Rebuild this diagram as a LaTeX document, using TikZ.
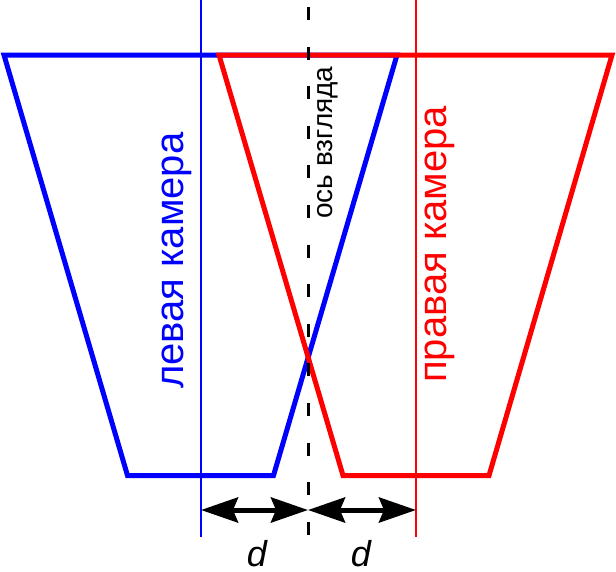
\documentclass[tikz,border=0pt]{standalone}
\usepackage{fontspec}
\setmainfont{Liberation Sans}
\usetikzlibrary{arrows.meta}
\definecolor{pblue}{RGB}{0,0,255}
\definecolor{pred}{RGB}{255,0,0}
\begin{document}
\begin{tikzpicture}[x=1pt,y=-1pt,
  frustum/.style={line width=5pt,line join=miter},
  guide/.style={line width=1.5pt},
  axisline/.style={line width=3pt,black,dash pattern=on 13pt off 26.6pt},
  dimarrow/.style={line width=5pt,black,{Stealth[length=37pt,width=25pt,inset=5pt]}-{Stealth[length=37pt,width=25pt,inset=5pt]}},
  biglabel/.style={rotate=90,anchor=base west,inner sep=0pt,font=\fontsize{40}{48}\selectfont},
  axislabel/.style={rotate=90,anchor=base west,inner sep=0pt,font=\fontsize{28}{34}\selectfont},
  dlabel/.style={anchor=base,inner sep=0pt,font=\fontsize{36}{43}\selectfont\itshape}]
\useasboundingbox (0,0) rectangle (616,571);
% trapezoids
\draw[frustum,pblue] (4,55) -- (397,55) -- (273.5,475.5) -- (127.5,475.5) -- cycle;
\draw[frustum,pred] (219,55) -- (612,55) -- (489,475.5) -- (343,475.5) -- cycle;
% guide lines
\coordinate (lt) at (201,0);
\coordinate (lb) at (201,537);
\coordinate (rt) at (416,0);
\coordinate (rb) at (416,537);
\coordinate (mt) at (308,7);
\coordinate (mb) at (308,537);
\draw[guide,pblue] (lt) -- (lb);
\draw[guide,pred] (rt) -- (rb);
\draw[axisline] (mt) -- (mb);
% dimension arrows
\coordinate (al) at (201,510);
\coordinate (am) at (308,510);
\coordinate (ar) at (416,510);
\draw[dimarrow] (al) -- (am);
\draw[dimarrow] (am) -- (ar);
% labels
\node[biglabel,text=pblue] (leftcam) at (183,389) {левая камера};
\node[biglabel,text=pred] (rightcam) at (446,383) {правая камера};
\node[axislabel] (axis) at (332,219) {ось взгляда};
\node[dlabel] (d1) at (257,566) {d};
\node[dlabel] (d2) at (361,566) {d};
\end{tikzpicture}
\end{document}
